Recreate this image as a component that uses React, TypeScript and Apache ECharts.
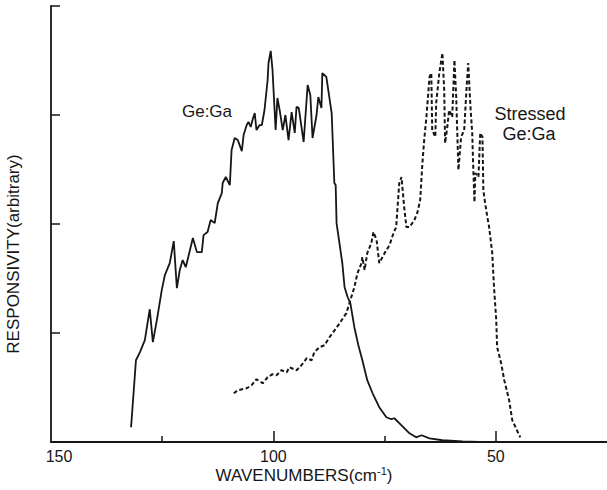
import React, { useEffect, useRef } from "react";
import * as echarts from "echarts";

// Ge:Ga (solid) — wavenumber (cm^-1) and responsivity (arbitrary)
const geGaX = [132.0, 130.9, 130.0, 128.9, 127.8, 127.1, 126.2, 125.1, 124.4, 123.3, 122.4, 121.7, 121.05, 120.4, 119.7, 118.1, 117.2, 116.1, 115.7, 114.8, 114.1, 113.2, 112.5, 111.6, 111.4, 110.7, 109.8, 109.4, 108.7, 108.0, 107.1, 106.7, 106.0, 105.6, 105.1, 104.7, 104.2, 103.8, 103.1, 102.6, 102.0, 101.3, 101.1, 100.6, 100.2, 99.5, 99.1, 98.6, 97.9, 97.3, 96.6, 95.9, 95.2, 94.8, 94.3, 93.2, 92.3, 91.7, 91.2, 90.3, 89.9, 89.2, 89.0, 88.1, 86.9, 86.3, 86.0, 85.8, 84.5, 84.0, 83.3, 82.7, 81.8, 80.9, 80.0, 78.9, 77.7, 76.2, 74.6, 73.5, 72.8, 71.2, 69.4, 67.9, 66.7, 64.9, 62.0, 57.5, 53.7, 47.0];
const geGaY = [0.135, 0.75, 0.824, 0.934, 1.218, 0.916, 1.118, 1.393, 1.531, 1.641, 1.843, 1.411, 1.577, 1.669, 1.604, 1.871, 1.742, 1.742, 1.898, 1.926, 2.036, 2.008, 2.192, 2.284, 2.376, 2.431, 2.357, 2.679, 2.789, 2.77, 2.669, 2.816, 2.908, 2.936, 2.89, 2.954, 3.018, 2.862, 2.908, 2.908, 3.046, 3.321, 3.477, 3.588, 3.413, 2.862, 3.156, 3.046, 2.862, 3.0, 2.77, 3.027, 2.835, 3.074, 3.065, 2.752, 3.275, 3.184, 2.789, 3.0, 3.165, 3.065, 3.385, 3.349, 3.018, 2.376, 2.357, 2.008, 1.639, 1.42, 1.328, 1.274, 1.053, 0.888, 0.75, 0.567, 0.447, 0.319, 0.227, 0.209, 0.218, 0.153, 0.08, 0.043, 0.062, 0.034, 0.016, 0.006, 0.002, 0.0];

// Stressed Ge:Ga (dashed)
const stressedX = [108.9, 108.0, 106.0, 104.9, 103.8, 102.4, 101.3, 100.2, 99.3, 98.2, 97.0, 96.4, 94.8, 93.7, 92.5, 91.4, 90.8, 89.6, 88.5, 87.4, 86.7, 85.1, 83.6, 82.7, 81.8, 81.1, 80.2, 80.0, 79.5, 78.9, 78.0, 77.5, 76.8, 76.2, 75.0, 73.9, 73.0, 72.4, 71.7, 71.2, 70.6, 70.1, 69.4, 68.3, 67.6, 67.0, 66.5, 66.1, 65.6, 64.9, 64.5, 64.3, 63.6, 63.4, 62.7, 62.0, 61.6, 61.4, 60.9, 60.5, 59.8, 59.3, 58.9, 58.7, 58.4, 57.8, 57.1, 56.6, 56.2, 55.7, 55.3, 55.1, 54.8, 54.6, 53.9, 53.5, 53.0, 52.8, 52.4, 51.9, 51.5, 50.8, 50.4, 49.9, 49.7, 48.8, 48.1, 47.0, 46.3, 44.5];
const stressedY = [0.447, 0.475, 0.493, 0.521, 0.576, 0.539, 0.594, 0.622, 0.612, 0.658, 0.64, 0.686, 0.658, 0.704, 0.769, 0.75, 0.824, 0.87, 0.888, 0.961, 0.998, 1.09, 1.182, 1.301, 1.42, 1.549, 1.641, 1.696, 1.577, 1.733, 1.823, 1.926, 1.852, 1.641, 1.733, 1.806, 1.916, 1.972, 2.376, 2.431, 2.156, 1.972, 1.972, 2.036, 2.109, 2.219, 2.559, 2.77, 2.982, 3.349, 3.385, 2.862, 2.798, 3.11, 3.385, 3.569, 3.229, 2.742, 2.89, 3.046, 2.982, 3.505, 3.165, 2.89, 2.495, 2.798, 2.862, 3.229, 3.477, 3.074, 2.835, 2.559, 2.201, 2.467, 2.431, 2.835, 2.798, 2.311, 2.192, 2.063, 1.972, 1.733, 1.42, 1.118, 0.87, 0.723, 0.567, 0.384, 0.2, 0.043];

const xLabelValues = [150, 100, 50];
const xMajorTicks = [100, 50];
const xMinorTicks = [125, 75];

const INK = "#161616";
const FONT = "'Liberation Sans', Arial, sans-serif";

export default function App() {
  const ref = useRef<HTMLDivElement>(null);
  useEffect(() => {
    if (!ref.current) return;
    const chart = echarts.init(ref.current, null, { renderer: "svg" });
    const xBase = {
      type: "value",
      min: 25,
      max: 150,
      interval: 25,
      inverse: true,
      splitLine: { show: false },
    };
    chart.setOption({
      animation: false,
      backgroundColor: "#ffffff",
      grid: { left: 51, right: 0, top: 6, bottom: 48, containLabel: false },
      xAxis: [
        {
          ...xBase,
          position: "bottom",
          axisLine: { show: true, lineStyle: { color: INK, width: 1.8 } },
          axisTick: { show: true, inside: true, length: 11, customValues: xMajorTicks, lineStyle: { color: INK, width: 1.5 } },
          axisLabel: {
            show: true,
            customValues: xLabelValues,
            color: INK,
            fontFamily: FONT,
            fontSize: 16,
            margin: 6,
            formatter: (v: number) => (v === 150 ? "{l|150}" : String(v)),
            rich: {
              l: { fontFamily: FONT, fontSize: 16, color: INK, padding: [0, 0, 0, 16] },
            },
          },
        },
        {
          ...xBase,
          position: "bottom",
          axisLine: { show: false },
          axisTick: { show: true, inside: true, length: 6, customValues: xMinorTicks, lineStyle: { color: INK, width: 1.5 } },
          axisLabel: { show: false },
        },
      ],
      yAxis: {
        type: "value",
        min: 0,
        max: 4,
        interval: 1,
        axisLine: { show: true, lineStyle: { color: INK, width: 1.8 } },
        axisTick: { show: true, inside: true, length: 9, lineStyle: { color: INK, width: 1.5 } },
        axisLabel: { show: false },
        splitLine: { show: false },
      },
      series: [
        {
          name: "Ge:Ga",
          type: "line",
          xAxisIndex: 0,
          showSymbol: false,
          symbol: "none",
          lineStyle: { color: INK, width: 1.8 },
          data: geGaX.map((x, i) => [x, geGaY[i]]),
        },
        {
          name: "Stressed Ge:Ga",
          type: "line",
          xAxisIndex: 0,
          showSymbol: false,
          symbol: "none",
          lineStyle: { color: INK, width: 2, type: [4, 2.5] },
          data: stressedX.map((x, i) => [x, stressedY[i]]),
        },
      ],
      graphic: [
        {
          type: "text",
          x: 207,
          y: 111,
          style: { text: "Ge:Ga", font: `17px ${FONT}`, fill: INK, align: "center", verticalAlign: "middle" },
        },
        {
          type: "text",
          x: 530,
          y: 114,
          style: { text: "Stressed", font: `18px ${FONT}`, fill: INK, align: "center", verticalAlign: "middle" },
        },
        {
          type: "text",
          x: 529,
          y: 134,
          style: { text: "Ge:Ga", font: `18px ${FONT}`, fill: INK, align: "center", verticalAlign: "middle" },
        },
        {
          type: "text",
          x: 13,
          y: 254,
          rotation: Math.PI / 2,
          style: { text: "RESPONSIVITY(arbitrary)", font: `17px ${FONT}`, fill: INK, align: "center", verticalAlign: "middle" },
        },
        {
          type: "text",
          x: 304,
          y: 475,
          style: {
            text: "WAVENUMBERS(cm{sup|-1})",
            font: `17px ${FONT}`,
            fill: INK,
            align: "center",
            verticalAlign: "middle",
            rich: {
              sup: { fontSize: 11, fontFamily: FONT, fill: INK, verticalAlign: "top", padding: [0, 0, 8, 0] },
            },
          },
        },
      ],
    });
    return () => chart.dispose();
  }, []);
  return <div ref={ref} style={{ position: "absolute", left: 0, top: 0, width: 607, height: 490 }} />;
}
